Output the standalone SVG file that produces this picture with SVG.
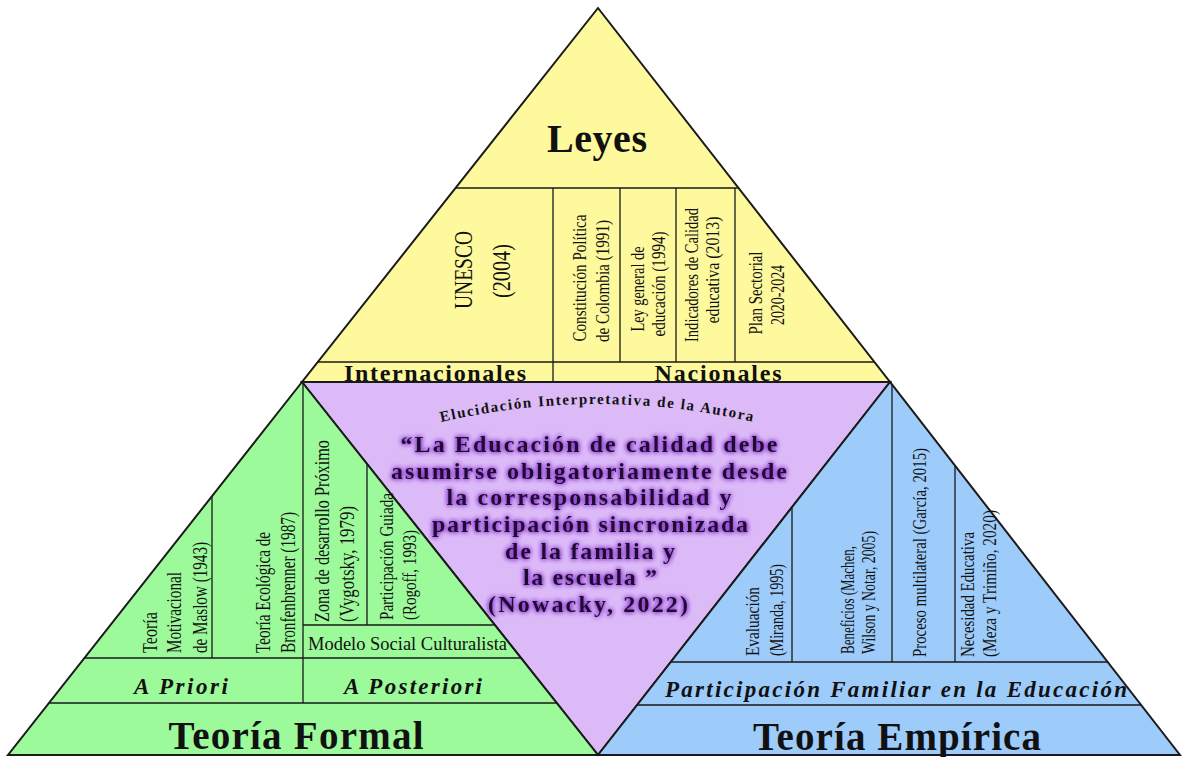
<svg xmlns="http://www.w3.org/2000/svg" width="1182" height="757" viewBox="0 0 1182 757">
<defs>
<style>
.tri{stroke:#1a1a1a;stroke-width:2;stroke-linejoin:miter}
.ln{stroke:#1a1a1a;stroke-width:1.3;fill:none}
.sf{font-family:"Liberation Serif","Times New Roman",serif;fill:#111}
.b{font-weight:bold}
.bi{font-weight:bold;font-style:italic}
.ttl{font-size:39px;font-weight:bold;text-anchor:middle}
.mid{text-anchor:middle}
.y17{font-size:19px}
.g18{font-size:20px}
.b16{font-size:18px}
.q{font-size:24px;font-weight:bold;fill:#1d0b2b;text-anchor:middle}
</style>
<filter id="glow" x="-10%" y="-40%" width="120%" height="180%">
<feGaussianBlur in="SourceAlpha" stdDeviation="2.4" result="bl"/>
<feFlood flood-color="#7f2cc8"/>
<feComposite in2="bl" operator="in" result="gl"/>
<feMerge><feMergeNode in="gl"/><feMergeNode in="gl"/><feMergeNode in="SourceGraphic"/></feMerge>
</filter>
<path id="arc" d="M 410,430 Q 597,378 785,430" fill="none"/>
</defs>
<rect width="1182" height="757" fill="#ffffff"/>

<g id="leyes">
<polygon class="tri" points="598,8 302,382 890,382" fill="#fdf99c"/>
<path class="ln" d="M456,188 H738 M318,362 H874 M553,188 V382 M620,188 V362 M676,188 V362 M735,188 V362"/>
<text class="sf b mid" x="597" y="152" font-size="40" textLength="100">Leyes</text>
<text class="sf mid" font-size="26" transform="translate(472,270) rotate(-90)" textLength="78" lengthAdjust="spacingAndGlyphs">UNESCO</text>
<text class="sf mid" font-size="26" transform="translate(510,271) rotate(-90)" textLength="54" lengthAdjust="spacingAndGlyphs">(2004)</text>
<text class="sf y17 mid" transform="translate(586,278) rotate(-90)" textLength="127" lengthAdjust="spacingAndGlyphs">Constitución Política</text>
<text class="sf y17 mid" transform="translate(609,281) rotate(-90)" textLength="122" lengthAdjust="spacingAndGlyphs">de Colombia (1991)</text>
<text class="sf y17 mid" transform="translate(644,289) rotate(-90)" textLength="85" lengthAdjust="spacingAndGlyphs">Ley general de</text>
<text class="sf y17 mid" transform="translate(665,284) rotate(-90)" textLength="105" lengthAdjust="spacingAndGlyphs">educación (1994)</text>
<text class="sf y17 mid" transform="translate(698,275) rotate(-90)" textLength="134" lengthAdjust="spacingAndGlyphs">Indicadores de Calidad</text>
<text class="sf y17 mid" transform="translate(719,270) rotate(-90)" textLength="107" lengthAdjust="spacingAndGlyphs">educativa (2013)</text>
<text class="sf y17 mid" transform="translate(762,293) rotate(-90)" textLength="83" lengthAdjust="spacingAndGlyphs">Plan Sectorial</text>
<text class="sf y17 mid" transform="translate(784,295) rotate(-90)" textLength="60" lengthAdjust="spacingAndGlyphs">2020-2024</text>
<text class="sf b mid" x="435" y="381" font-size="24" textLength="182">Internacionales</text>
<text class="sf b mid" x="718" y="381" font-size="24" textLength="127">Nacionales</text>
</g>

<g id="elucidacion">
<polygon class="tri" points="302,382 890,382 598,755" fill="#dcbaf8"/>
</g>

<g id="teoria-formal">
<polygon class="tri" points="302,382 8,755 598,755" fill="#9cfa9a"/>
<path class="ln" d="M85,658 H521 M49,703 H557 M303,382 V703 M212,496 V658 M367,463 V625 M303,625 H495"/>
<text class="sf g18" transform="translate(157,653) rotate(-90)" textLength="41" lengthAdjust="spacingAndGlyphs">Teoría</text>
<text class="sf g18" transform="translate(181,653) rotate(-90)" textLength="81" lengthAdjust="spacingAndGlyphs">Motivacional</text>
<text class="sf g18" transform="translate(207,653) rotate(-90)" textLength="111" lengthAdjust="spacingAndGlyphs">de Maslow (1943)</text>
<text class="sf g18" transform="translate(270,653) rotate(-90)" textLength="121" lengthAdjust="spacingAndGlyphs">Teoría Ecológica de</text>
<text class="sf g18" transform="translate(295,653) rotate(-90)" textLength="141" lengthAdjust="spacingAndGlyphs">Bronfenbrenner (1987)</text>
<text class="sf g18" transform="translate(329,622) rotate(-90)" textLength="182" lengthAdjust="spacingAndGlyphs">Zona de desarrollo Próximo</text>
<text class="sf g18" transform="translate(354,622) rotate(-90)" textLength="116" lengthAdjust="spacingAndGlyphs">(Vygotsky, 1979)</text>
<text class="sf b16" transform="translate(393,620) rotate(-90)" textLength="127" lengthAdjust="spacingAndGlyphs">Participación Guiada</text>
<text class="sf b16" transform="translate(416,620) rotate(-90)" textLength="90" lengthAdjust="spacingAndGlyphs">(Rogoff,  1993)</text>
<text class="sf" x="308" y="650" font-size="18" textLength="199" lengthAdjust="spacingAndGlyphs">Modelo Social Culturalista</text>
<text class="sf bi mid" x="181" y="694" font-size="23" textLength="94">A Priori</text>
<text class="sf bi mid" x="413" y="694" font-size="23" textLength="138">A Posteriori</text>
<text class="sf ttl" x="296" y="749" textLength="255">Teoría Formal</text>
</g>

<g id="teoria-empirica">
<polygon class="tri" points="890,382 598,755 1180,755" fill="#9dcbfa"/>
<path class="ln" d="M671,662 H1108 M637,705 H1141 M792,507 V662 M892,385 V662 M955,466 V662"/>
<text class="sf b16" transform="translate(759,656) rotate(-90)" textLength="69" lengthAdjust="spacingAndGlyphs">Evaluación</text>
<text class="sf b16" transform="translate(783,656) rotate(-90)" textLength="92" lengthAdjust="spacingAndGlyphs">(Miranda, 1995)</text>
<text class="sf b16" transform="translate(854,654) rotate(-90)" textLength="108" lengthAdjust="spacingAndGlyphs">Beneficios (Machen,</text>
<text class="sf b16" transform="translate(875,654) rotate(-90)" textLength="123" lengthAdjust="spacingAndGlyphs">Wilson y Notar, 2005)</text>
<text class="sf b16" transform="translate(926,657) rotate(-90)" textLength="209" lengthAdjust="spacingAndGlyphs">Proceso multilateral (García, 2015)</text>
<text class="sf b16" transform="translate(974,657) rotate(-90)" textLength="125" lengthAdjust="spacingAndGlyphs">Necesidad Educativa</text>
<text class="sf b16" transform="translate(996,657) rotate(-90)" textLength="147" lengthAdjust="spacingAndGlyphs">(Meza y Trimiño, 2020)</text>
<text class="sf bi mid" x="896" y="697" font-size="23" textLength="462">Participación Familiar en la Educación</text>
<text class="sf ttl" x="897" y="750" textLength="288">Teoría Empírica</text>
</g>

<g id="cita">
<text class="sf b" font-size="15" letter-spacing="1.6"><textPath href="#arc" startOffset="50%" text-anchor="middle">Elucidación Interpretativa de la Autora</textPath></text>
<g filter="url(#glow)">
<text class="sf q" x="589" y="452" textLength="377">“La Educación de calidad debe</text>
<text class="sf q" x="589" y="479" textLength="396">asumirse obligatoriamente desde</text>
<text class="sf q" x="589" y="505" textLength="285">la corresponsabilidad y</text>
<text class="sf q" x="590" y="532" textLength="316">participación sincronizada</text>
<text class="sf q" x="590" y="559" textLength="170">de la familia y</text>
<text class="sf q" x="590" y="585" textLength="134">la escuela ”</text>
<text class="sf q" x="588" y="612" textLength="200">(Nowacky, 2022)</text>
</g>
</g>
<g id="connectors"></g>
</svg>
